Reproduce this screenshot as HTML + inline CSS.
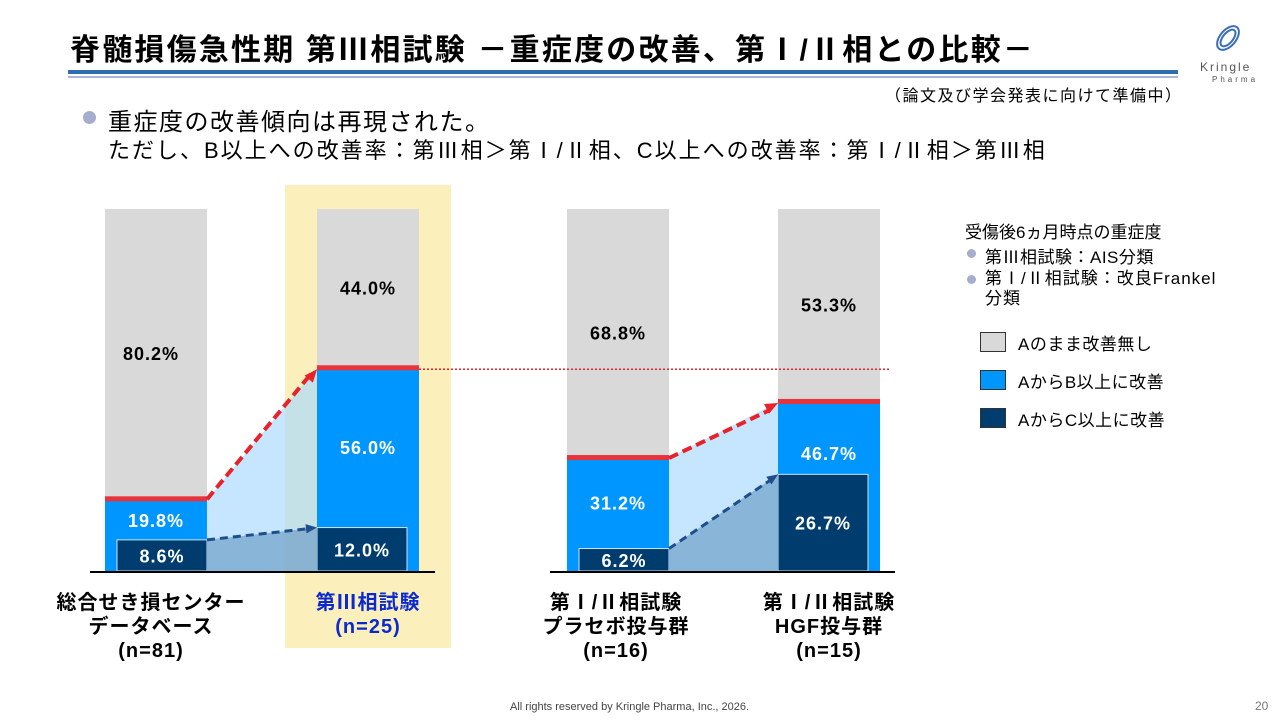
<!DOCTYPE html>
<html><head><meta charset="utf-8"><style>
body{margin:0;width:1280px;height:720px;background:#fff;font-family:"Liberation Sans","Noto Sans CJK JP",sans-serif;overflow:hidden;position:relative}
.t{position:absolute;white-space:nowrap}
</style></head><body>
<div class="t" style="left:70px;top:25px;font-size:30px;font-weight:bold;color:#000;letter-spacing:2.2px">脊髄損傷急性期 第Ⅲ相試験 －重症度の改善、第Ⅰ/Ⅱ相との比較－</div>
<div style="position:absolute;left:68px;top:70px;width:1110px;height:4px;background:#2e6fb0"></div>
<div style="position:absolute;left:68px;top:76px;width:1110px;height:2px;background:#a9b8d6"></div>
<svg style="position:absolute;left:1208px;top:18px" width="40" height="40"><g fill="none" stroke="#3a6fb8" stroke-width="2"><ellipse cx="20" cy="20" rx="14" ry="8" transform="rotate(-50 20 20)"/><ellipse cx="20" cy="20" rx="10" ry="5" transform="rotate(-50 20 20)"/></g></svg>
<div class="t" style="left:1200px;top:60px;font-size:12px;color:#555;letter-spacing:2px">Kringle</div>
<div class="t" style="left:1212px;top:75px;font-size:8px;color:#555;letter-spacing:3px">Pharma</div>
<div class="t" style="left:885px;top:82px;font-size:16px;letter-spacing:1.5px">（論文及び学会発表に向けて準備中）</div>
<div style="position:absolute;left:83px;top:111px;width:13px;height:13px;border-radius:50%;background:#a6aed0"></div>
<div class="t" style="left:108px;top:102px;font-size:24px;letter-spacing:1.5px">重症度の改善傾向は再現された。</div>
<div class="t" style="left:108px;top:133px;font-size:22px;letter-spacing:2px">ただし、B以上への改善率：第Ⅲ相＞第Ⅰ/Ⅱ相、C以上への改善率：第Ⅰ/Ⅱ相＞第Ⅲ相</div>

<svg id="chart" style="position:absolute;left:0;top:0" width="1280" height="720"></svg>

<div class="t" style="left:965px;top:218px;font-size:17px">受傷後6ヵ月時点の重症度</div>
<div style="position:absolute;left:967px;top:249px;width:9px;height:9px;border-radius:50%;background:#a6aed0"></div>
<div class="t" style="left:985px;top:243px;font-size:17px;letter-spacing:0.5px">第Ⅲ相試験：AIS分類</div>
<div style="position:absolute;left:967px;top:275px;width:9px;height:9px;border-radius:50%;background:#a6aed0"></div>
<div class="t" style="left:985px;top:269px;font-size:17px;line-height:20px;letter-spacing:1px">第Ⅰ/Ⅱ相試験：改良Frankel<br>分類</div>
<div style="position:absolute;left:980px;top:332px;width:24px;height:18px;background:#d9d9d9;border:1px solid #333"></div>
<div class="t" style="left:1018px;top:330px;font-size:17px;letter-spacing:0.5px">Aのまま改善無し</div>
<div style="position:absolute;left:980px;top:370px;width:24px;height:18px;background:#0096ff;border:1px solid #333"></div>
<div class="t" style="left:1018px;top:368px;font-size:17px;letter-spacing:0.5px">AからB以上に改善</div>
<div style="position:absolute;left:980px;top:408px;width:24px;height:18px;background:#003c6e;border:1px solid #333"></div>
<div class="t" style="left:1018px;top:406px;font-size:17px;letter-spacing:0.5px">AからC以上に改善</div>

<div class="t" style="left:510px;top:701px;font-size:11px;color:#444">All rights reserved by Kringle Pharma, Inc., 2026.</div>
<div class="t" style="left:1255px;top:699px;font-size:12px;color:#777">20</div>

<script>
const categories=[["総合せき損センター","データベース","(n=81)"],["第Ⅲ相試験","(n=25)"],["第Ⅰ/Ⅱ相試験","プラセボ投与群","(n=16)"],["第Ⅰ/Ⅱ相試験","HGF投与群","(n=15)"]];
const noneVals=[80.2,44.0,68.8,53.3];
const bVals=[19.8,56.0,31.2,46.7];
const cVals=[8.6,12.0,6.2,26.7];
const highlightIndex=1;

const NS="http://www.w3.org/2000/svg";
const svg=document.getElementById('chart');
const base=571,H=362,bw=102;
const xPos=[105,317,567,778];
const y=v=>base-v/100*H;
function el(t,a,p){const e=document.createElementNS(NS,t);for(const k in a)e.setAttribute(k,a[k]);(p||svg).appendChild(e);return e;}
const hl=el('rect',{x:xPos[highlightIndex]-32,y:185,width:bw+64,height:463,fill:'#fbefbc'});


for(let i=0;i<4;i++){
  const x=xPos[i];
  const g=el('rect',{x:x,y:y(100),width:bw,height:H,fill:'#d9d9d9'});
  
  
  const b=el('rect',{x:x,y:y(bVals[i]),width:bw,height:bVals[i]/100*H,fill:'#0096ff'});
  
  
  const r=el('rect',{x:x,y:y(bVals[i])-3,width:bw,height:5,fill:'#e8333a'});
  
  
  const left=(i%2==0);
  const cx=left?x+12:x;
  const c=el('rect',{x:cx,y:y(cVals[i]),width:bw-12,height:cVals[i]/100*H,fill:'#003c6e',stroke:'#cfe3f5','stroke-width':1});
  
  
}
for(const p of [[0,1],[2,3]]){
  const [a,b]=p;const xa=xPos[a]+bw,xb=xPos[b];
  const ar=el('polygon',{points:`${xa},${y(bVals[a])} ${xb},${y(bVals[b])} ${xb},${base} ${xa},${base}`,fill:'#a8d8ff','fill-opacity':0.65});
  
  
  const ac=el('polygon',{points:`${xa},${y(cVals[a])} ${xb},${y(cVals[b])} ${xb},${base} ${xa},${base}`,fill:'#6fa0c8','fill-opacity':0.7});
  
  
  const l1=el('line',{x1:xa,y1:y(bVals[a]),x2:xb-8,y2:y(bVals[b])+8,stroke:'#e8222a','stroke-width':4,'stroke-dasharray':'10 5'});
  
  
  const ang=Math.atan2(y(bVals[b])-y(bVals[a]),xb-xa);
  const tx=xb,ty=y(bVals[b])+1;
  const h1=el('polygon',{points:`${tx},${ty} ${tx-14*Math.cos(ang-0.4)},${ty-14*Math.sin(ang-0.4)} ${tx-14*Math.cos(ang+0.4)},${ty-14*Math.sin(ang+0.4)}`,fill:'#e8222a'});
  
  
  const l2=el('line',{x1:xa,y1:y(cVals[a]),x2:xb-8,y2:y(cVals[b])+(b==3?6:1),stroke:'#1f4e8c','stroke-width':3,'stroke-dasharray':'8 5'});
  
  
  const ang2=Math.atan2(y(cVals[b])-y(cVals[a]),xb-xa);
  const ux=xb,uy=y(cVals[b]);
  const h2=el('polygon',{points:`${ux},${uy} ${ux-12*Math.cos(ang2-0.4)},${uy-12*Math.sin(ang2-0.4)} ${ux-12*Math.cos(ang2+0.4)},${uy-12*Math.sin(ang2+0.4)}`,fill:'#1f4e8c'});
  
  
}
const ref=el('line',{x1:xPos[1]+bw,y1:y(bVals[1])+1,x2:890,y2:y(bVals[1])+1,stroke:'#e8222a','stroke-width':1.5,'stroke-dasharray':'2 2'});


for(const [x1,x2] of [[90,435],[550,895]]){
  const ax=el('line',{x1:x1,y1:base+1,x2:x2,y2:base+1,stroke:'#000','stroke-width':2});
  
  
}
function lab(txt,x,yy,col,name){const t=el('text',{x:x,y:yy,'text-anchor':'middle','font-size':18,'font-weight':'bold',fill:col,'letter-spacing':1,'font-family':'"Liberation Sans","Noto Sans CJK JP",sans-serif'});t.textContent=txt;

}
for(let i=0;i<4;i++){
  const x=xPos[i],cx=x+bw/2;
  const ntop=y(100),nbot=y(bVals[i]);
  lab(noneVals[i].toFixed(1)+'%',cx+(i==0?-5:0),(ntop+nbot)/2+6,'#000','label-none-'+i);
  const left=(i%2==0);
  const dcx=left?x+12+(bw-12)/2:x+(bw-12)/2;
  lab(cVals[i].toFixed(1)+'%',dcx,y(cVals[i])+(cVals[i]/100*H)/2+7,'#fff','label-c-'+i);
  const bmid=i==0?527:(i==3?y(bVals[i])+58:(y(bVals[i])+y(cVals[i]))/2+6);
  lab(bVals[i].toFixed(1)+'%',cx,bmid,'#fff','label-b-'+i);
}
for(let i=0;i<4;i++){
  const cx=xPos[i]+bw/2+(i==0?-5:(i==2?-2:0));
  categories[i].forEach((s,j)=>{
    const t=el('text',{x:cx,y:609+j*24,'text-anchor':'middle','font-size':20,'font-weight':'bold','letter-spacing':1,fill:i==highlightIndex?'#0a2ad0':'#000','font-family':'"Liberation Sans","Noto Sans CJK JP",sans-serif'});
    t.textContent=s;
    
    
  });
}
</script>
</body></html>
